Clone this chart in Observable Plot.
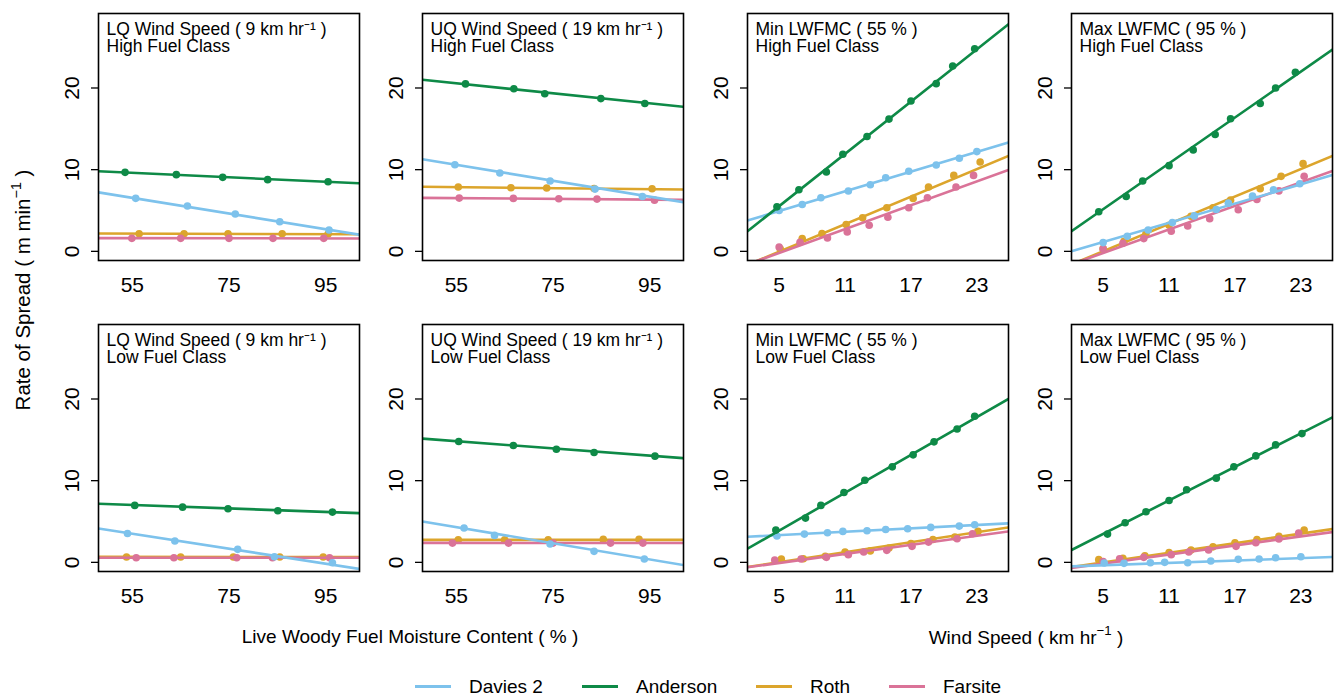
<!DOCTYPE html>
<html><head><meta charset="utf-8">
<script src="https://cdn.jsdelivr.net/npm/d3@7"></script>
<script src="https://cdn.jsdelivr.net/npm/@observablehq/plot@0.6"></script>
<style>
body{margin:0;background:#fff;font-family:"Liberation Sans",Arial,sans-serif;}
#wrap{position:relative;width:1336px;height:700px;overflow:hidden;background:#fff;}
.panel{position:absolute;}
.t{position:absolute;white-space:nowrap;color:#000;font-size:19px;line-height:1;}
.t sup{font-size:0.7em;position:relative;top:-0.1em;}
.leg{position:absolute;height:3px;}
</style></head><body><div id="wrap"></div>
<script>
// ---- categories / styling ----
const seriesNames = ["Davies 2", "Anderson", "Roth", "Farsite"];
const seriesColors = ["#7DC2EC", "#0E8A47", "#DCA52C", "#DA7398"];
const drawOrder = ["Roth", "Farsite", "Davies 2", "Anderson"];

// ---- axes ----
const yTicks = [0, 10, 20];
const yDomain = [-1.12, 29.12];
const moistTicks = [55, 75, 95];
const moistDomain = [48, 102];
const windTicks = [5, 11, 17, 23];
const windDomain = [2.12, 25.88];

// ---- panel labels (two lines each) ----
const labelHL = ["LQ Wind Speed ( 9 km hr⁻¹ )", "High Fuel Class"];
const labelHU = ["UQ Wind Speed ( 19 km hr⁻¹ )", "High Fuel Class"];
const labelHMin = ["Min LWFMC ( 55 % )", "High Fuel Class"];
const labelHMax = ["Max LWFMC ( 95 % )", "High Fuel Class"];
const labelLL = ["LQ Wind Speed ( 9 km hr⁻¹ )", "Low Fuel Class"];
const labelLU = ["UQ Wind Speed ( 19 km hr⁻¹ )", "Low Fuel Class"];
const labelLMin = ["Min LWFMC ( 55 % )", "Low Fuel Class"];
const labelLMax = ["Max LWFMC ( 95 % )", "Low Fuel Class"];

// ---- data: points [x, rate of spread]; fit = fitted line value at left / right edge ----
// High fuel, LQ wind (x = LWFMC)
const hl_davies = [[55.7,6.49],[66.4,5.55],[76.3,4.57],[85.5,3.63],[95.7,2.61]];
const hl_anderson = [[53.5,9.67],[64.1,9.39],[73.7,9.06],[83.0,8.78],[95.5,8.53]];
const hl_roth = [[56.4,2.16],[65.7,2.16],[74.8,2.16],[86.0,2.16],[95.5,2.12]];
const hl_farsite = [[54.9,1.59],[65.0,1.59],[75.0,1.59],[84.1,1.59],[94.6,1.59]];
const hl_fit = {"Davies 2":[7.22,2.04], "Anderson":[9.8,8.33], "Roth":[2.18,2.1], "Farsite":[1.62,1.58]};
// High fuel, UQ wind
const hu_davies = [[54.7,10.6],[64.0,9.59],[74.4,8.61],[83.7,7.62],[93.5,6.72]];
const hu_anderson = [[56.9,20.5],[66.9,19.9],[73.3,19.3],[84.9,18.7],[94.0,18.1]];
const hu_roth = [[55.4,7.87],[66.3,7.79],[73.7,7.75],[83.5,7.7],[95.5,7.66]];
const hu_farsite = [[55.6,6.52],[66.8,6.48],[76.2,6.44],[84.1,6.4],[96.0,6.27]];
const hu_fit = {"Davies 2":[11.27,6.02], "Anderson":[21.0,17.7], "Roth":[7.9,7.58], "Farsite":[6.55,6.3]};
// High fuel, min LWFMC (x = wind speed)
const hmin_davies = [[5.0,5.0],[7.1,5.74],[8.8,6.56],[11.3,7.38],[13.3,8.16],[14.7,9.02],[16.8,9.8],[19.3,10.57],[21.4,11.39],[23.0,12.21]];
const hmin_anderson = [[4.8,5.45],[6.8,7.54],[9.3,9.71],[10.8,11.89],[13.0,14.06],[15.0,16.19],[17.0,18.4],[19.3,20.53],[20.8,22.7],[22.8,24.8]];
const hmin_roth = [[5.1,0.3],[7.1,1.56],[8.9,2.17],[11.1,3.28],[12.6,4.1],[14.8,5.33],[17.2,6.48],[18.6,7.87],[20.9,9.3],[23.3,10.94]];
const hmin_farsite = [[5.0,0.53],[6.9,1.1],[9.4,1.64],[11.2,2.38],[13.2,3.2],[14.9,4.18],[16.8,5.33],[18.5,6.56],[21.1,7.87],[22.7,9.3]];
const hmin_fit = {"Davies 2":[3.77,13.32], "Anderson":[2.46,27.8], "Roth":[-1.66,11.68], "Farsite":[-1.6,9.96]};
// High fuel, max LWFMC
const hmax_davies = [[5.0,1.07],[7.2,1.84],[9.1,2.62],[11.3,3.52],[13.3,4.34],[15.3,5.12],[16.4,5.9],[18.6,6.76],[20.5,7.54],[22.9,8.28]];
const hmax_anderson = [[4.6,4.84],[7.1,6.72],[8.6,8.61],[11.0,10.49],[13.2,12.42],[15.2,14.3],[16.6,16.23],[19.3,18.11],[20.7,20.0],[22.5,21.93]];
const hmax_roth = [[5.0,0.33],[6.9,1.23],[8.9,2.17],[11.0,3.2],[13.0,4.3],[15.0,5.33],[16.6,6.27],[19.3,7.66],[21.2,9.18],[23.2,10.74]];
const hmax_farsite = [[5.0,0.3],[6.8,1.0],[8.7,1.56],[11.2,2.46],[12.7,3.11],[14.7,4.0],[17.3,5.1],[19.0,6.35],[21.0,7.4],[23.3,9.2]];
const hmax_fit = {"Davies 2":[0.0,9.34], "Anderson":[2.46,24.7], "Roth":[-1.6,11.68], "Farsite":[-1.59,9.84]};
// Low fuel, LQ wind
const ll_davies = [[54.0,3.54],[63.8,2.61],[76.8,1.59],[84.4,0.69],[96.4,-0.04]];
const ll_anderson = [[55.5,6.97],[65.4,6.76],[74.8,6.56],[85.1,6.31],[96.4,6.15]];
const ll_roth = [[53.8,0.65],[65.0,0.65],[75.9,0.65],[85.5,0.65],[94.5,0.65]];
const ll_farsite = [[55.8,0.57],[63.6,0.57],[76.6,0.57],[84.0,0.57],[95.8,0.57]];
const ll_fit = {"Davies 2":[4.15,-0.81], "Anderson":[7.17,6.03], "Roth":[0.68,0.64], "Farsite":[0.57,0.57]};
// Low fuel, UQ wind
const lu_davies = [[56.6,4.2],[62.9,3.3],[74.4,2.24],[83.5,1.35],[93.9,0.41]];
const lu_anderson = [[55.5,14.8],[66.8,14.3],[75.7,13.85],[83.5,13.44],[96.1,13.0]];
const lu_roth = [[55.4,2.77],[65.0,2.75],[74.0,2.75],[85.4,2.81],[92.8,2.81]];
const lu_farsite = [[54.2,2.36],[65.8,2.36],[75.0,2.36],[86.9,2.36],[93.6,2.36]];
const lu_fit = {"Davies 2":[5.0,-0.33], "Anderson":[15.15,12.75], "Roth":[2.75,2.75], "Farsite":[2.38,2.36]};
// Low fuel, min LWFMC
const lmin_davies = [[4.8,3.22],[7.3,3.46],[9.4,3.63],[10.8,3.79],[13.0,3.87],[14.7,4.03],[16.7,4.11],[18.8,4.28],[21.4,4.44],[22.8,4.6]];
const lmin_anderson = [[4.7,3.95],[7.4,5.42],[8.8,6.97],[10.9,8.55],[12.8,10.06],[15.3,11.69],[17.2,13.16],[19.1,14.75],[21.2,16.33],[22.8,17.88]];
const lmin_roth = [[5.2,0.4],[7.2,0.45],[9.2,0.75],[11.0,1.26],[13.3,1.4],[15.0,1.75],[17.0,2.3],[19.0,2.8],[21.0,3.1],[23.1,3.79]];
const lmin_farsite = [[4.6,0.29],[7.0,0.41],[9.3,0.61],[11.3,0.94],[12.7,1.26],[14.8,1.47],[17.1,1.96],[18.6,2.48],[21.2,2.89],[22.6,3.5]];
const lmin_fit = {"Davies 2":[3.14,4.77], "Anderson":[1.67,20.0], "Roth":[-0.57,4.28], "Farsite":[-0.61,3.79]};
// Low fuel, max LWFMC
const lmax_davies = [[5.1,-0.08],[6.9,-0.12],[9.3,-0.04],[10.6,0],[12.7,-0.04],[14.8,0.16],[17.3,0.37],[19.2,0.41],[20.7,0.57],[23.0,0.69]];
const lmax_anderson = [[5.4,3.46],[7.0,4.85],[8.9,6.19],[11.0,7.58],[12.6,8.88],[15.3,10.31],[16.9,11.69],[18.9,13.03],[20.7,14.38],[23.1,15.76]];
const lmax_roth = [[4.6,0.33],[6.8,0.5],[8.8,0.8],[11.0,1.2],[13.0,1.5],[15.0,1.9],[17.0,2.4],[19.0,2.8],[21.0,3.2],[23.3,3.95]];
const lmax_farsite = [[5.0,0.1],[6.5,0.45],[8.7,0.61],[11.2,0.94],[12.8,1.26],[14.6,1.51],[17.1,1.96],[18.9,2.4],[21.0,2.85],[22.8,3.58]];
const lmax_fit = {"Davies 2":[-0.49,0.65], "Anderson":[1.51,17.76], "Roth":[-0.57,4.07], "Farsite":[-0.69,3.71]};

// ---- layout (pixel positions of panel frames) ----
const colLefts = [98, 422, 747, 1071];
const rowTops = [13, 324];
const frameW = 261, frameH = 247;
const mL = 50, mR = 6, mT = 6, mB = 44;

const colorOf = s => seriesColors[seriesNames.indexOf(s)];

function makePanel(col, row, label, xDomain, xTicks, pts, fit) {
  const marks = [];
  for (const s of drawOrder) {
    const c = colorOf(s);
    const line = [{x: xDomain[0], y: fit[s][0]}, {x: xDomain[1], y: fit[s][1]}];
    marks.push(Plot.line(line, {x: "x", y: "y", stroke: c, strokeWidth: 2.6, clip: true}));
    marks.push(Plot.dot(pts[s].map(([x, y]) => ({x, y})), {x: "x", y: "y", r: 3.8, fill: c, stroke: "none"}));
  }
  marks.push(Plot.frame({stroke: "#000", strokeWidth: 1.6}));
  marks.push(Plot.axisY({ticks: yTicks, tickSize: 7, tickFormat: () => "", strokeWidth: 1.3, label: null}));
  marks.push(Plot.text(yTicks, {y: d => d, text: d => String(d), frameAnchor: "left", dx: -26, rotate: -90,
    textAnchor: "middle", lineAnchor: "middle", fontSize: 21, fill: "#000"}));
  marks.push(Plot.text(xTicks, {x: d => d, text: d => String(d), frameAnchor: "bottom", dy: 25,
    textAnchor: "middle", lineAnchor: "middle", fontSize: 21, fill: "#000"}));
  marks.push(Plot.text([label[0]], {text: d => d, frameAnchor: "top-left", dx: 8, dy: 9, textAnchor: "start",
    lineAnchor: "top", fontSize: 17.5, fill: "#000"}));
  marks.push(Plot.text([label[1]], {text: d => d, frameAnchor: "top-left", dx: 8, dy: 26.5, textAnchor: "start",
    lineAnchor: "top", fontSize: 17.5, fill: "#000"}));
  const svg = Plot.plot({
    width: frameW + mL + mR, height: frameH + mT + mB,
    marginLeft: mL, marginRight: mR, marginTop: mT, marginBottom: mB,
    x: {domain: xDomain, axis: null, label: null},
    y: {domain: yDomain, label: null},
    style: {fontFamily: '"Liberation Sans", Arial, sans-serif', background: "transparent", overflow: "visible"},
    marks
  });
  svg.classList.add("panel");
  svg.style.left = (colLefts[col] - mL) + "px";
  svg.style.top = (rowTops[row] - mT) + "px";
  document.getElementById("wrap").appendChild(svg);
}

const P = (d, a, r, f) => ({"Davies 2": d, "Anderson": a, "Roth": r, "Farsite": f});
makePanel(0, 0, labelHL, moistDomain, moistTicks, P(hl_davies, hl_anderson, hl_roth, hl_farsite), hl_fit);
makePanel(1, 0, labelHU, moistDomain, moistTicks, P(hu_davies, hu_anderson, hu_roth, hu_farsite), hu_fit);
makePanel(2, 0, labelHMin, windDomain, windTicks, P(hmin_davies, hmin_anderson, hmin_roth, hmin_farsite), hmin_fit);
makePanel(3, 0, labelHMax, windDomain, windTicks, P(hmax_davies, hmax_anderson, hmax_roth, hmax_farsite), hmax_fit);
makePanel(0, 1, labelLL, moistDomain, moistTicks, P(ll_davies, ll_anderson, ll_roth, ll_farsite), ll_fit);
makePanel(1, 1, labelLU, moistDomain, moistTicks, P(lu_davies, lu_anderson, lu_roth, lu_farsite), lu_fit);
makePanel(2, 1, labelLMin, windDomain, windTicks, P(lmin_davies, lmin_anderson, lmin_roth, lmin_farsite), lmin_fit);
makePanel(3, 1, labelLMax, windDomain, windTicks, P(lmax_davies, lmax_anderson, lmax_roth, lmax_farsite), lmax_fit);

// ---- axis titles and legend ----
const wrap = document.getElementById("wrap");
function addText(html, cx, cy, rot, size) {
  const d = document.createElement("div");
  d.className = "t";
  d.innerHTML = html;
  d.style.left = cx + "px"; d.style.top = cy + "px";
  if (size) d.style.fontSize = size + "px";
  d.style.transform = "translate(-50%,-50%)" + (rot ? " rotate(" + rot + "deg)" : "");
  wrap.appendChild(d);
}
addText("Rate of Spread ( m min<sup>−1</sup> )", 22, 290, -90, 20.5);
addText("Live Woody Fuel Moisture Content ( % )", 410, 636);
addText("Wind Speed ( km hr<sup>−1</sup> )", 1026, 636);

const legendLineX = [415, 582, 756, 889];
const legendY = 686;
seriesNames.forEach((s, i) => {
  const l = document.createElement("div");
  l.className = "leg";
  l.style.left = legendLineX[i] + "px"; l.style.top = (legendY - 1.5) + "px";
  l.style.width = "36px"; l.style.background = seriesColors[i];
  wrap.appendChild(l);
  const t = document.createElement("div");
  t.className = "t";
  t.textContent = s;
  t.style.left = (legendLineX[i] + 54) + "px"; t.style.top = legendY + "px";
  t.style.transform = "translate(0,-50%)";
  wrap.appendChild(t);
});
</script></body></html>
